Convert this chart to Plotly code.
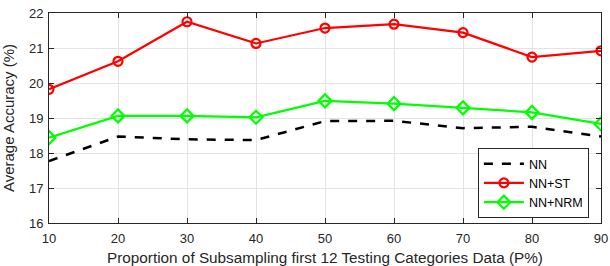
import plotly.graph_objects as go

x_vals = [10, 20, 30, 40, 50, 60, 70, 80, 90]
nn = [17.77, 18.47, 18.39, 18.37, 18.91, 18.92, 18.71, 18.75, 18.47]
nn_st = [19.82, 20.62, 21.75, 21.13, 21.57, 21.68, 21.44, 20.74, 20.92]
nn_nrm = [18.44, 19.06, 19.06, 19.02, 19.49, 19.41, 19.29, 19.16, 18.83]
x_ticks = [10, 20, 30, 40, 50, 60, 70, 80, 90]
y_ticks = [16, 17, 18, 19, 20, 21, 22]

fig = go.Figure()
fig.add_trace(go.Scatter(x=x_vals, y=nn, mode="lines", name="NN",
                         line=dict(color="black", width=2.5, dash="dash")))
fig.add_trace(go.Scatter(x=x_vals, y=nn_st, mode="lines+markers", name="NN+ST",
                         line=dict(color="#ff0000", width=2.2),
                         marker=dict(symbol="circle-open", size=9, color="#ff0000",
                                     line=dict(width=2.2, color="#ff0000"))))
fig.add_trace(go.Scatter(x=x_vals, y=nn_nrm, mode="lines+markers", name="NN+NRM",
                         line=dict(color="#00ff00", width=2.2),
                         marker=dict(symbol="diamond-open", size=10, color="#00ff00",
                                     line=dict(width=2.2, color="#00ff00"))))

axis_common = dict(showline=True, linecolor="#262626", linewidth=1, mirror="ticks",
                   ticks="inside", ticklen=5, tickcolor="#262626",
                   showgrid=True, gridcolor="#e3e3e3", gridwidth=1, zeroline=False,
                   automargin=False,
                   tickfont=dict(family="Liberation Sans, Arial", size=13, color="#262626"))

fig.update_layout(
    width=610, height=266,
    margin=dict(l=49, r=9, t=13, b=43),
    paper_bgcolor="white", plot_bgcolor="white",
    font=dict(family="Liberation Sans, Arial", color="#262626"),
    xaxis=dict(range=[10, 90], tickvals=x_ticks, ticklabelstandoff=3,
               title=dict(text="Proportion of Subsampling first 12 Testing Categories Data (P%)",
                          font=dict(size=15.3), standoff=15),
               **axis_common),
    yaxis=dict(range=[16, 22], tickvals=y_ticks, ticklabelstandoff=2,
               title=dict(text="Average Accuracy (%)", font=dict(size=15), standoff=14),
               **axis_common),
    legend=dict(x=0.777, y=0.357, xanchor="left", yanchor="top",
                bgcolor="white", bordercolor="#262626", borderwidth=1,
                font=dict(size=12.5, color="black"), tracegroupgap=0,
                itemwidth=40),
    showlegend=True,
)

# remove the default page margin so the figure sits at the top-left corner of the window
fig.write_html("out.html", config={"displayModeBar": False},
               post_script="document.body.style.margin='0';document.body.style.padding='0';")
